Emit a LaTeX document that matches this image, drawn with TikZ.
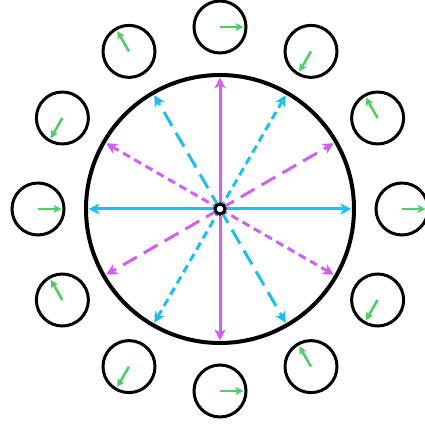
\documentclass[tikz,border=0pt]{standalone}
\usetikzlibrary{arrows.meta}
\definecolor{cy}{RGB}{30,190,240}
\definecolor{pu}{RGB}{210,95,240}
\definecolor{gr}{RGB}{80,205,100}
\begin{document}
\begin{tikzpicture}[x=1pt,y=1pt,
  ray/.style={line width=3pt,-{Stealth[length=11pt,width=11pt,inset=3pt]}},
  longdash/.style={dash pattern=on 16pt off 8pt},
  shortdash/.style={dash pattern=on 8pt off 5pt},
  ring/.style={circle,draw,line width=3pt,minimum size=52pt,inner sep=0pt},
  phase/.style={gr,line width=2.6pt,-{Stealth[length=8pt,width=8pt,inset=2pt]}}]
\useasboundingbox (-220,-216) rectangle (204,209);
\node[circle,draw,line width=4pt,minimum size=268pt,inner sep=0pt] (big) at (0,0) {};
\coordinate (o) at (0,0);
\foreach \a/\c/\s in {0/cy/solid,30/pu/longdash,60/cy/shortdash,90/pu/solid,120/cy/longdash,150/pu/shortdash,180/cy/solid,210/pu/longdash,240/cy/shortdash,270/pu/solid,300/cy/longdash,330/pu/shortdash}{
  \coordinate (e\a) at (\a:131.5);
  \draw[ray,\c,\s] (o) -- (e\a);
}
\node[circle,draw,fill=white,line width=3pt,minimum size=10pt,inner sep=0pt] (c) at (o) {};
\foreach \t in {0,30,...,330}{
  \node[ring] (s\t) at (\t:182) {};
  \draw[phase] (s\t.center) -- ++(4*\t:23.5);
}
\end{tikzpicture}
\end{document}
